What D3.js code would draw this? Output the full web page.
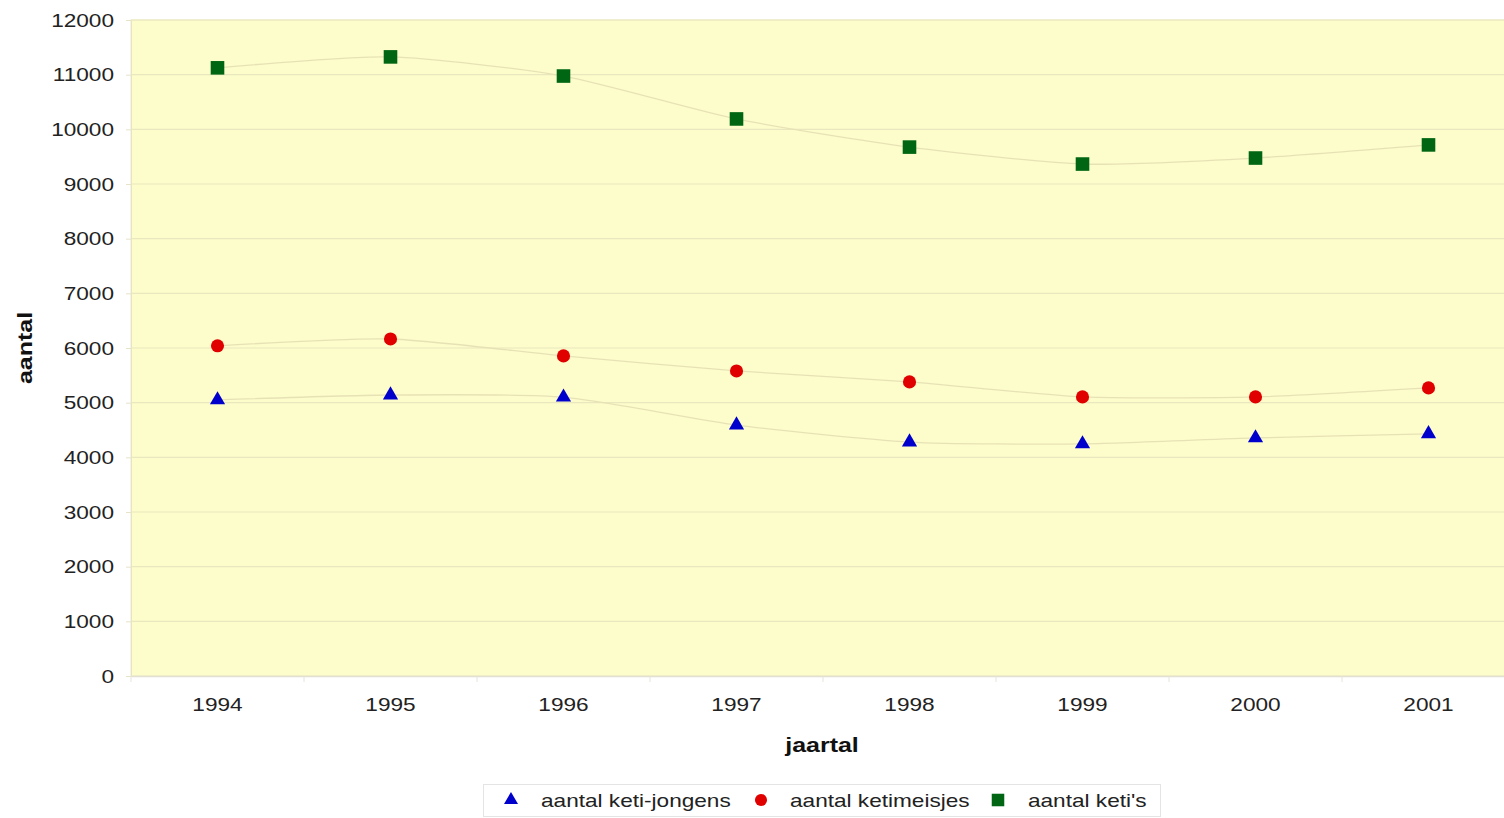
<!DOCTYPE html>
<html>
<head>
<meta charset="utf-8">
<script src="https://cdn.jsdelivr.net/npm/d3@7"></script>
<style>
  html, body { margin: 0; padding: 0; background: #fff; }
  svg { display: block; font-family: Arial, "Liberation Sans", sans-serif; }
</style>
</head>
<body>
<svg id="chart" width="1504" height="818"></svg>
<script>
// Years on the category axis
const years = ["1994", "1995", "1996", "1997", "1998", "1999", "2000", "2001"];
// Number of boys, girls and total per year
const boys  = [5050, 5140, 5100, 4590, 4280, 4245, 4355, 4430];
const girls = [6040, 6165, 5855, 5580, 5380, 5105, 5105, 5270];
const total = [11125, 11325, 10975, 10190, 9675, 9365, 9475, 9715];
// Value axis ticks
const yTicks = [0, 1000, 2000, 3000, 4000, 5000, 6000, 7000, 8000, 9000, 10000, 11000, 12000];
const seriesNames = ["aantal keti-jongens", "aantal ketimeisjes", "aantal keti's"];

const svg = d3.select("#chart");
const mLeft = 131, mTop = 20, plotRight = 1515, mBottom = 676;
const WIDEN = 1.19; // horizontal stretch applied to all labels

// stretch a text element horizontally around its anchor x
function widen(sel) {
  sel.each(function () {
    const t = d3.select(this);
    const ax = +t.attr("x") || 0;
    const prev = t.attr("transform") || "";
    t.attr("transform", `${prev} translate(${ax},0) scale(${WIDEN},1) translate(${-ax},0)`);
  });
}

const x = d3.scaleBand().domain(years).range([mLeft, plotRight]);
const y = d3.scaleLinear().domain([0, 12000]).range([mBottom, mTop]);

svg.append("clipPath").attr("id", "plotclip")
  .append("rect").attr("x", mLeft).attr("y", mTop - 10).attr("width", 1504 - mLeft).attr("height", mBottom - mTop + 20);

// plot background
svg.append("rect").attr("x", mLeft).attr("y", mTop).attr("width", plotRight - mLeft).attr("height", mBottom - mTop)
  .attr("fill", "#fdfccb").attr("stroke", "#ecebc4").attr("stroke-width", 1);

// horizontal gridlines
svg.append("g").selectAll("line").data(yTicks.slice(1)).join("line")
  .attr("x1", mLeft).attr("x2", 1504)
  .attr("y1", d => y(d)).attr("y2", d => y(d))
  .attr("stroke", "#e9e7bd").attr("stroke-width", 1.2);

// y axis
const yAxis = d3.axisLeft(y).tickValues(yTicks).tickSize(5).tickPadding(12).tickFormat(d3.format("d"));
const gy = svg.append("g").attr("transform", `translate(${mLeft},0)`).call(yAxis);
gy.select(".domain").attr("stroke", "#e6e4c8");
gy.selectAll(".tick line").attr("stroke", "#e6e4c8");
gy.selectAll("text").attr("font-size", 19).attr("fill", "#222").attr("font-family", "Arial, 'Liberation Sans', sans-serif").call(widen);

// x axis
const xAxis = d3.axisBottom(x).tickSize(0).tickPadding(22);
const gx = svg.append("g").attr("transform", `translate(0,${mBottom})`).call(xAxis);
gx.select(".domain").attr("stroke", "#e2e0d0").attr("stroke-width", 1.5);
gx.selectAll("text").attr("font-size", 19).attr("fill", "#222").attr("font-family", "Arial, 'Liberation Sans', sans-serif").call(widen);
// category separators below the axis
svg.append("g").selectAll("line").data(years).join("line")
  .attr("x1", d => x(d)).attr("x2", d => x(d))
  .attr("y1", mBottom).attr("y2", mBottom + 6)
  .attr("stroke", "#e6e4d8");

// axis titles
svg.append("text").attr("x", 822).attr("y", 752).attr("text-anchor", "middle")
  .attr("font-size", 21).attr("font-weight", "bold").attr("fill", "#111").text("jaartal").call(widen);
svg.append("g").attr("transform", "translate(32,348) rotate(-90)")
  .append("text").attr("x", 0).attr("y", 0).attr("text-anchor", "middle")
  .attr("font-size", 21).attr("font-weight", "bold").attr("fill", "#111").text("aantal").call(widen);

const cx = d => x(d) + x.bandwidth() / 2;
const line = d3.line().x(d => cx(d.year)).y(d => y(d.v)).curve(d3.curveCardinal.tension(0.35));

const series = [
  { name: seriesNames[0], values: boys,  color: "#0000cc", shape: d3.symbolTriangle, size: 100 },
  { name: seriesNames[1], values: girls, color: "#e00000", shape: d3.symbolCircle,   size: 135 },
  { name: seriesNames[2], values: total, color: "#006614", shape: d3.symbolSquare,   size: 185 }
];

const plot = svg.append("g").attr("clip-path", "url(#plotclip)");
series.forEach(s => {
  const pts = years.map((yr, i) => ({ year: yr, v: s.values[i] }));
  plot.append("path").datum(pts).attr("d", line)
    .attr("fill", "none").attr("stroke", "#e7e2b6").attr("stroke-width", 1.3);
  plot.append("g").selectAll("path").data(pts).join("path")
    .attr("transform", d => `translate(${cx(d.year)},${y(d.v)})`)
    .attr("d", d3.symbol().type(s.shape).size(s.size))
    .attr("fill", s.color);
});

// legend
const lg = svg.append("g");
lg.append("rect").attr("x", 483.5).attr("y", 784.5).attr("width", 677).attr("height", 32)
  .attr("fill", "#fff").attr("stroke", "#e4e4e4");
const legendItems = [
  { x: 511, tx: 541 },
  { x: 761, tx: 790 },
  { x: 998, tx: 1028 }
];
series.forEach((s, i) => {
  lg.append("path").attr("transform", `translate(${legendItems[i].x},800)`)
    .attr("d", d3.symbol().type(s.shape).size(s.size * 0.85)).attr("fill", s.color);
  lg.append("text").attr("x", legendItems[i].tx).attr("y", 807)
    .attr("font-size", 19).attr("fill", "#222").text(s.name).call(widen);
});
</script>
</body>
</html>
